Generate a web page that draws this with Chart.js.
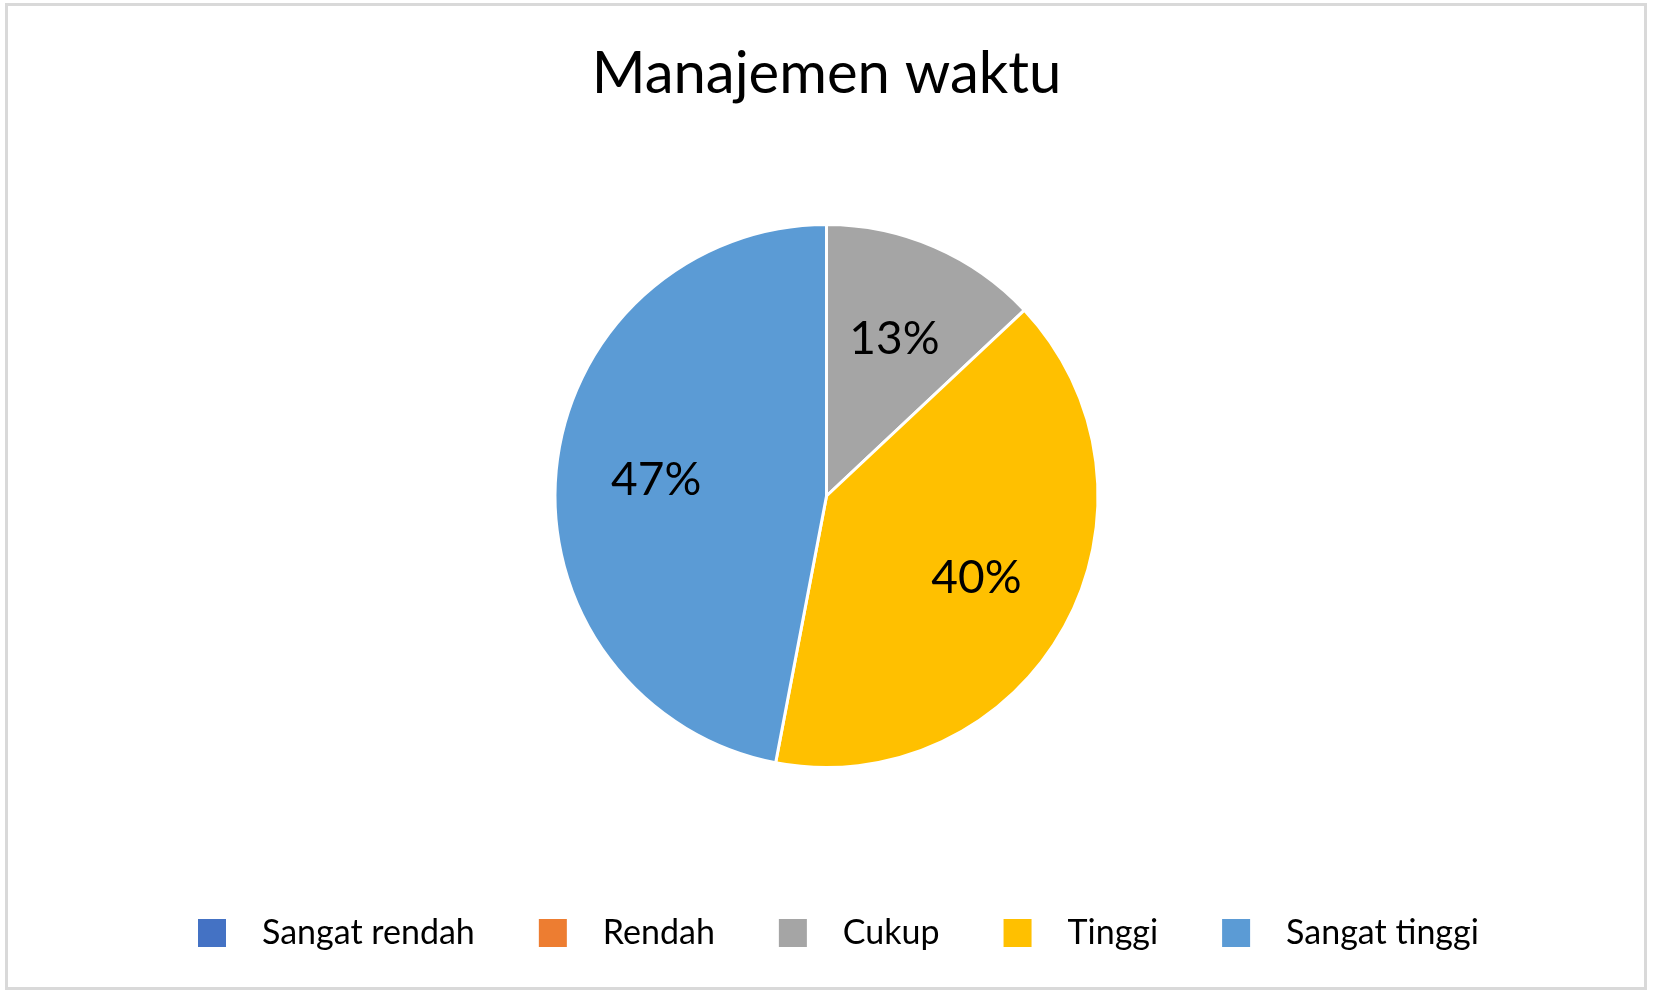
<!DOCTYPE html>
<html>
<head>
<meta charset="utf-8">
<script src="https://cdn.jsdelivr.net/npm/chart.js@4.4.1/dist/chart.umd.min.js"></script>
<style>
  html, body { margin: 0; padding: 0; background: #fff; }
  #wrap { position: relative; width: 1653px; height: 993px; }
  #frame { position: absolute; left: 5px; top: 3px; width: 1636px; height: 981px; border: 3px solid #d9d9d9; pointer-events: none; }
  canvas { position: absolute; left: 0; top: 0; }
</style>
</head>
<body>
<div id="wrap">
  <canvas id="pieChart" width="1653" height="993"></canvas>
  <div id="frame"></div>
</div>
<script>
const chartTitle = 'Manajemen waktu';
const categories = ['Sangat rendah', 'Rendah', 'Cukup', 'Tinggi', 'Sangat tinggi'];
const percents = [0, 0, 13, 40, 47];
const colors = ['#4472c4', '#ed7d31', '#a5a5a5', '#ffc000', '#5b9bd5'];

const FONT = 'Lato, "Open Sans", sans-serif';

// percent labels inside the slices, Excel-style
const sliceLabels = {
  id: 'sliceLabels',
  afterDatasetsDraw(chart) {
    const { ctx } = chart;
    const meta = chart.getDatasetMeta(0);
    const total = percents.reduce((s, v) => s + v, 0);
    ctx.save();
    ctx.fillStyle = '#000';
    ctx.font = '46px ' + FONT;
    ctx.textAlign = 'center';
    ctx.textBaseline = 'middle';
    meta.data.forEach((arc, i) => {
      if (!percents[i]) return;
      const { x, y, startAngle, endAngle, outerRadius } = arc.getProps(['x', 'y', 'startAngle', 'endAngle', 'outerRadius'], true);
      const mid = (startAngle + endAngle) / 2;
      const r = outerRadius * 0.63;
      const pct = Math.round(percents[i] / total * 100) + '%';
      ctx.fillText(pct, x + Math.cos(mid) * r, y + Math.sin(mid) * r);
    });
    ctx.restore();
  }
};

// title and bottom legend
const chartDecor = {
  id: 'chartDecor',
  afterDraw(chart) {
    const { ctx, width } = chart;
    ctx.save();
    ctx.fillStyle = '#000';
    ctx.font = '58px ' + FONT;
    ctx.textAlign = 'center';
    ctx.textBaseline = 'alphabetic';
    ctx.fillText(chartTitle, width / 2, 93);

    ctx.font = '34px ' + FONT;
    ctx.textAlign = 'left';
    const box = 28, gapText = 36, gapItem = 64;
    const widths = categories.map(c => box + gapText + ctx.measureText(c).width);
    let x = 198;
    const cy = 933;
    categories.forEach((c, i) => {
      ctx.fillStyle = colors[i];
      ctx.fillRect(x, cy - box / 2, box, box);
      ctx.fillStyle = '#000';
      ctx.textBaseline = 'middle';
      ctx.fillText(c, x + box + gapText, cy);
      x += widths[i] + gapItem;
    });
    ctx.restore();
  }
};

new Chart(document.getElementById('pieChart'), {
  type: 'pie',
  data: {
    labels: categories,
    datasets: [{
      data: percents,
      backgroundColor: colors,
      borderColor: '#fff',
      borderWidth: 3
    }]
  },
  options: {
    responsive: false,
    animation: false,
    layout: { padding: { top: 223, bottom: 224 } },
    plugins: {
      legend: { display: false },
      title: { display: false },
      tooltip: { enabled: false }
    }
  },
  plugins: [sliceLabels, chartDecor]
});
</script>
</body>
</html>
